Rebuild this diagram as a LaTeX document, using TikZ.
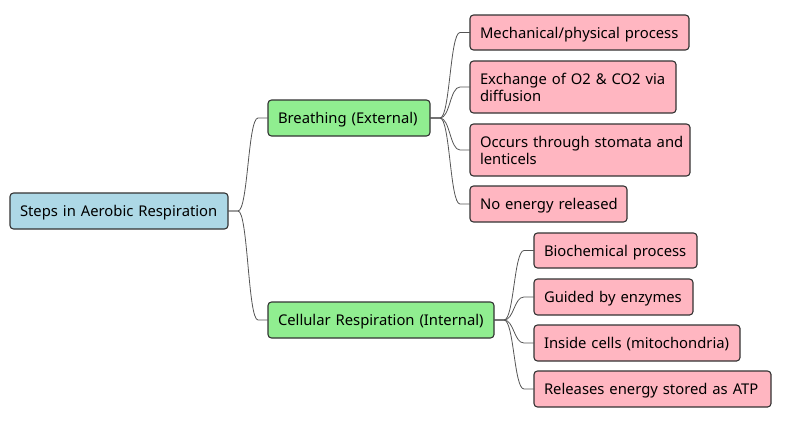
\documentclass[tikz,border=0pt]{standalone}
\usepackage{fontspec}
\setmainfont{Noto Sans}
\usetikzlibrary{calc}
\definecolor{rootc}{HTML}{ADD8E6}
\definecolor{midc}{HTML}{90EE90}
\definecolor{leafc}{HTML}{FFB6C1}
\definecolor{edgec}{HTML}{333333}
\definecolor{linec}{HTML}{555555}
\newcommand{\tstr}{\rule{0pt}{15.5pt}}
\newcommand{\bstr}{\rule[-4pt]{0pt}{4pt}}
\newcommand{\oneln}[1]{\mbox{\tstr\bstr #1}}
\newcommand{\twoln}[2]{\mbox{\tstr #1}\\\mbox{\bstr #2}}
\begin{document}
\begin{tikzpicture}[x=1pt,y=-1pt,
  box/.style={draw=edgec, line width=1.1pt, rounded corners=3.5pt, inner sep=0pt, outer sep=0pt,
    align=left, font=\fontsize{14.8}{16.8}\selectfont},
  rootbox/.style={box, fill=rootc},
  midbox/.style={box, fill=midc},
  leafbox/.style={box, fill=leafc},
  conn/.style={draw=linec, line width=0.8pt}]
\useasboundingbox (0,0) rectangle (792,423);
% helper: node at center with given width/height
\newcommand{\bx}[7]{\node[#1, minimum width=#4, minimum height=#5, text width=#4-20] (#2) at (#6,#7) {#3};}
\bx{rootbox}{root}{\oneln{Steps in Aerobic Respiration}}{218}{36}{119}{211}
\bx{midbox}{br}{\oneln{Breathing (External)}}{162}{36}{349}{118}
\bx{midbox}{ce}{\oneln{Cellular Respiration (Internal)}}{226}{36}{381}{320}
\bx{leafbox}{l1}{\oneln{Mechanical/physical process}}{219}{35}{579.5}{32.5}
\bx{leafbox}{l2}{\twoln{Exchange of O2 \& CO2 via}{diffusion}}{206}{52}{573}{87}
\bx{leafbox}{l3}{\twoln{Occurs through stomata and}{lenticels}}{220}{52}{580}{150}
\bx{leafbox}{l4}{\oneln{No energy released}}{157}{36}{548.5}{204}
\bx{leafbox}{c1}{\oneln{Biochemical process}}{163}{35}{615.5}{250.5}
\bx{leafbox}{c2}{\oneln{Guided by enzymes}}{159}{36}{613.5}{297}
\bx{leafbox}{c3}{\oneln{Inside cells (mitochondria)}}{206}{36}{637}{343}
\bx{leafbox}{c4}{\oneln{Releases energy stored as ATP}}{237}{36}{652.5}{389}
\foreach \p/\c in {root/br, root/ce, br/l1, br/l2, br/l3, br/l4, ce/c1, ce/c2, ce/c3, ce/c4}{
  \draw[conn] (\p.east) -- ++(10,0) .. controls +(10,0) and ($(\c.west)+(-20,0)$) .. ($(\c.west)+(-10,0)$) -- (\c.west);
}
\end{tikzpicture}
\end{document}
